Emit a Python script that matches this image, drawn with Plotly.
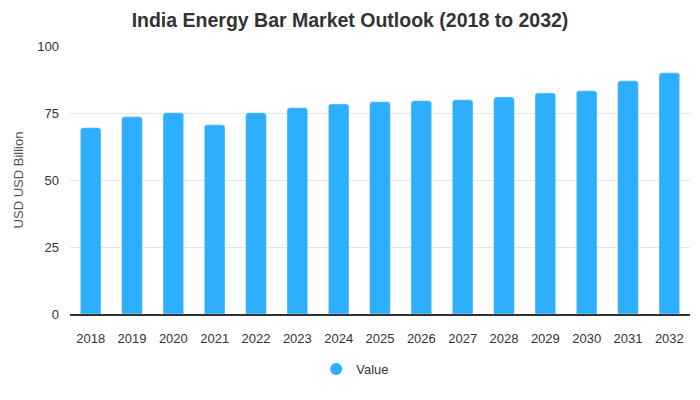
import plotly.graph_objects as go

years = ["2018", "2019", "2020", "2021", "2022", "2023", "2024", "2025",
         "2026", "2027", "2028", "2029", "2030", "2031", "2032"]
values = [69.5, 73.6, 75.1, 70.6, 75.1, 77.0, 78.4, 79.2,
          79.6, 79.9, 81.0, 82.5, 83.3, 87.0, 90.0]
y_ticks = [0, 25, 50, 75, 100]

BLUE = "#2eaefe"

fig = go.Figure()
fig.add_trace(go.Bar(
    x=years, y=values, name="Value", marker=dict(color=BLUE, cornerradius=3),
    width=0.5, showlegend=False,
))
fig.add_trace(go.Scatter(
    x=[None], y=[None], mode="markers", name="Value",
    marker=dict(color=BLUE, size=12, symbol="circle"),
))

fig.update_layout(
    width=700, height=400,
    margin=dict(l=70, r=10, t=46, b=86),
    paper_bgcolor="white", plot_bgcolor="white",
    font=dict(family="Liberation Sans, Arial, sans-serif", size=13, color="#333"),
    title=dict(text="<b>India Energy Bar Market Outlook (2018 to 2032)</b>",
               x=0.5, xanchor="center", y=0.95, yanchor="middle",
               font=dict(size=19.5, color="#333")),
    legend=dict(orientation="h", x=0.46, xanchor="center", y=-0.205, yanchor="middle",
                itemwidth=30, font=dict(size=13, color="#333")),
    bargap=0.5,
)
fig.update_xaxes(showline=True, linecolor="#333", linewidth=1.5, ticks="",
                 ticklabelstandoff=12, tickfont=dict(size=13, color="#333"))
fig.update_yaxes(range=[0, 100], tickvals=y_ticks, showgrid=True, gridcolor="#e6e6e6",
                 zeroline=False, ticks="", ticklabelstandoff=10,
                 title=dict(text="USD USD Billion", font=dict(size=13, color="#555"), standoff=10),
                 tickfont=dict(size=13, color="#333"))

fig.write_html("out.html")
